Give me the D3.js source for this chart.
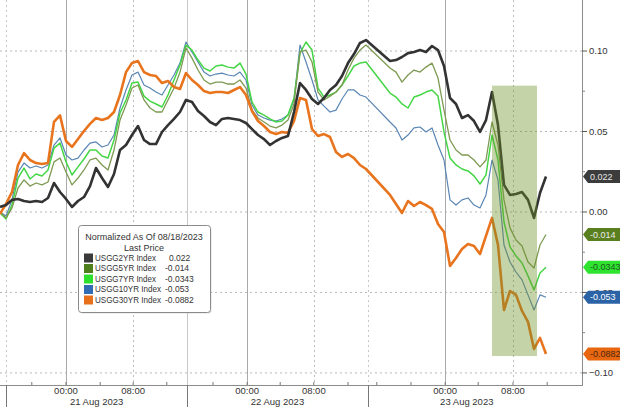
<!DOCTYPE html>
<html>
<head>
<meta charset="utf-8">
<script src="https://cdn.jsdelivr.net/npm/d3@7"></script>
<style>
  html, body { margin: 0; padding: 0; background: #fff; }
  svg { display: block; font-family: "Liberation Sans", Arial, sans-serif; }
</style>
</head>
<body>
<svg id="chart" width="620" height="407"></svg>
<script>
// ---------------- DATA ----------------
// Observations are sampled at regular "slots" along the (session-compressed) time axis.
const seriesNames = ["USGG2YR Index", "USGG5YR Index", "USGG7YR Index", "USGG10YR Index", "USGG30YR Index"];
const lastPrice = [0.022, -0.014, -0.0343, -0.053, -0.0882];

const usgg2yr = [
  0.0031, 0.0043, 0.0075, 0.0081, 0.0068, 0.0062, 0.0068, 0.0062, 0.0087, 0.0180,
  0.0124, 0.0081, 0.0031, 0.0068, 0.0093, 0.0161, 0.0273, 0.0211, 0.0155, 0.0236,
  0.0385, 0.0416, 0.0478, 0.0534, 0.0447, 0.0422, 0.0422, 0.0497, 0.0540, 0.0578,
  0.0621, 0.0696, 0.0683, 0.0627, 0.0596, 0.0559, 0.0540, 0.0578, 0.0584, 0.0578,
  0.0571, 0.0553, 0.0515, 0.0478, 0.0453, 0.0416, 0.0441, 0.0460, 0.0472, 0.0621,
  0.0801, 0.0758, 0.0702, 0.0671, 0.0708, 0.0758, 0.0789, 0.0845, 0.0925, 0.0981,
  0.1050, 0.1068,
  null, null, null,
  0.0938, 0.0944, 0.0963, 0.0987, 0.0994, 0.1006, 0.0994, 0.1031, 0.1006, 0.0907,
  0.0708, 0.0671, 0.0584, 0.0602, 0.0565, 0.0497, 0.0571, 0.0745, 0.0540, 0.0168,
  0.0106, 0.0112, 0.0124, 0.0075, -0.0037, 0.0118, 0.0220
];
const usgg5yr = [
  0.0000, -0.0037, 0.0025, 0.0149, 0.0199, 0.0161, 0.0180, 0.0168, 0.0186, 0.0311,
  0.0335, 0.0248, 0.0168, 0.0211, 0.0261, 0.0323, 0.0335, 0.0292, 0.0261, 0.0385,
  0.0571, 0.0665, 0.0770, 0.0789, 0.0696, 0.0646, 0.0621, 0.0621, 0.0696, 0.0770,
  0.0869, 0.1019, 0.0956, 0.0882, 0.0820, 0.0795, 0.0807, 0.0807, 0.0795, 0.0795,
  0.0820, 0.0770, 0.0633, 0.0584, 0.0559, 0.0534, 0.0522, 0.0540, 0.0571, 0.0671,
  0.0994, 0.1006, 0.0932, 0.0745, 0.0696, 0.0720, 0.0745, 0.0789, 0.0882, 0.0956,
  0.1006, 0.1037,
  null, null, null,
  0.0894, 0.0869, 0.0807, 0.0851, 0.0882, 0.0869, 0.0900, 0.0925, 0.0832, 0.0633,
  0.0447, 0.0385, 0.0354, 0.0354, 0.0323, 0.0280, 0.0323, 0.0559, 0.0416, 0.0075,
  -0.0099, -0.0174, -0.0211, -0.0311, -0.0348, -0.0205, -0.0140
];
const usgg7yr = [
  -0.0006, -0.0043, 0.0043, 0.0211, 0.0273, 0.0205, 0.0236, 0.0224, 0.0261, 0.0397,
  0.0428, 0.0311, 0.0230, 0.0280, 0.0329, 0.0385, 0.0385, 0.0348, 0.0335, 0.0447,
  0.0615, 0.0696, 0.0801, 0.0807, 0.0720, 0.0689, 0.0671, 0.0652, 0.0727, 0.0820,
  0.0913, 0.1037, 0.1006, 0.0944, 0.0894, 0.0876, 0.0907, 0.0913, 0.0900, 0.0894,
  0.0925, 0.0857, 0.0683, 0.0621, 0.0602, 0.0578, 0.0559, 0.0565, 0.0602, 0.0708,
  0.0987, 0.1056, 0.1006, 0.0770, 0.0714, 0.0727, 0.0745, 0.0789, 0.0845, 0.0907,
  0.0925, 0.0932,
  null, null, null,
  0.0739, 0.0714, 0.0671, 0.0646, 0.0714, 0.0727, 0.0745, 0.0758, 0.0720, 0.0497,
  0.0335, 0.0292, 0.0267, 0.0255, 0.0224, 0.0174, 0.0230, 0.0478, 0.0323, -0.0062,
  -0.0217, -0.0273, -0.0317, -0.0397, -0.0484, -0.0379, -0.0343
];
const usgg10yr = [
  0.0000, -0.0025, 0.0075, 0.0248, 0.0304, 0.0273, 0.0286, 0.0273, 0.0292, 0.0416,
  0.0460, 0.0354, 0.0323, 0.0335, 0.0385, 0.0428, 0.0435, 0.0404, 0.0416, 0.0478,
  0.0646, 0.0758, 0.0851, 0.0869, 0.0789, 0.0770, 0.0745, 0.0727, 0.0789, 0.0851,
  0.0925, 0.1056, 0.0994, 0.0932, 0.0869, 0.0845, 0.0857, 0.0863, 0.0851, 0.0845,
  0.0869, 0.0820, 0.0665, 0.0602, 0.0584, 0.0571, 0.0565, 0.0578, 0.0602, 0.0696,
  0.1037, 0.0932, 0.0820, 0.0696, 0.0658, 0.0621, 0.0633, 0.0702, 0.0758, 0.0758,
  0.0727, 0.0714,
  null, null, null,
  0.0559, 0.0522, 0.0447, 0.0478, 0.0522, 0.0528, 0.0497, 0.0522, 0.0416, 0.0323,
  0.0075, 0.0043, 0.0075, 0.0087, 0.0043, 0.0025, 0.0106, 0.0323, 0.0199, -0.0205,
  -0.0311, -0.0373, -0.0422, -0.0515, -0.0609, -0.0515, -0.0530
];
const usgg30yr = [
  -0.0012, 0.0050, 0.0124, 0.0292, 0.0366, 0.0323, 0.0304, 0.0298, 0.0304, 0.0560,
  0.0600, 0.0441, 0.0404, 0.0453, 0.0503, 0.0547, 0.0584, 0.0571, 0.0584, 0.0621,
  0.0727, 0.0869, 0.0925, 0.0938, 0.0869, 0.0851, 0.0845, 0.0801, 0.0814, 0.0776,
  0.0764, 0.0863, 0.0820, 0.0789, 0.0751, 0.0739, 0.0745, 0.0745, 0.0739, 0.0758,
  0.0776, 0.0727, 0.0627, 0.0565, 0.0534, 0.0497, 0.0484, 0.0497, 0.0491, 0.0565,
  0.0708, 0.0696, 0.0515, 0.0472, 0.0484, 0.0466, 0.0373, 0.0342, 0.0360, 0.0335,
  0.0292, 0.0267,
  null, null, null,
  0.0106, 0.0050, -0.0006, 0.0068, 0.0037, 0.0062, 0.0043, 0.0019, -0.0075, -0.0124,
  -0.0335, -0.0286, -0.0230, -0.0199, -0.0211, -0.0261, -0.0149, -0.0037, -0.0205, -0.0609,
  -0.0491, -0.0515, -0.0615, -0.0683, -0.0851, -0.0782, -0.0882
];

// time axis (in slot units)
const hourTickSlots = [11, 22.2, 41.2, 52.3, 74.2, 85.5];
const hourTickLabels = ["00:00", "08:00", "00:00", "08:00", "00:00", "08:00"];
const minorTickSlots = [5.3, 16.7, 27.8, 35.5, 46.7, 58, 62.8, 68.5, 79.7, 91.2];
const dayBoundSlots = [1, 31.2, 61.3, 94.3];
const dayLabels = ["21 Aug 2023", "22 Aug 2023", "23 Aug 2023"];
const yTickValues = [0.10, 0.05, 0.00, -0.05, -0.10];
const yMinorValues = [0.075, 0.025, -0.025, -0.075];
const highlightSlots = [82, 89.5];
const highlightValues = [-0.0895, 0.0785];

// ---------------- STYLE ----------------
const W = 620, H = 407;
const plot = { left: 0, right: 582, top: 0, bottom: 385 };
const seriesData = [usgg2yr, usgg5yr, usgg7yr, usgg10yr, usgg30yr];
const lineColors = ["#333333", "#7e9a52", "#45d645", "#5a86b4", "#e8741e"];
const lineWidths = [2.6, 1.3, 1.5, 1.2, 2.6];
const swatchColors = ["#3a3a3a", "#4f7f1c", "#2ee02e", "#2f6cb3", "#e8701a"];
const tagFill = ["#3c3c3c", "#5a7f1f", "#2fe42f", "#2b63a6", "#e8660f"];
const tagText = ["#e6e6e6", "#ececec", "#1d5a1d", "#ffffff", "#4a2810"];
const drawOrder = [3, 2, 1, 4, 0];

const svg = d3.select("#chart");

const x = d3.scaleLinear().domain([0, 97]).range([plot.left, plot.right]);
const y = d3.scaleLinear().domain([-0.1075, 0.1317]).range([plot.bottom, plot.top]);

// gridlines horizontal
svg.append("g").selectAll("line").data(yTickValues).join("line")
  .attr("x1", plot.left).attr("x2", plot.right)
  .attr("y1", d => y(d)).attr("y2", d => y(d))
  .attr("stroke", "#b8b8b8").attr("stroke-width", 1).attr("stroke-dasharray", "2,3");

// vertical gridlines
svg.append("g").selectAll("line").data(hourTickSlots).join("line")
  .attr("x1", d => Math.round(x(d)) + 0.5).attr("x2", d => Math.round(x(d)) + 0.5)
  .attr("y1", plot.top).attr("y2", plot.bottom)
  .attr("stroke", (d, i) => hourTickLabels[i] === "00:00" ? "#a9a9a9" : "#bdbdbd")
  .attr("stroke-dasharray", (d, i) => hourTickLabels[i] === "00:00" ? null : "2,3");

svg.append("g").selectAll("line").data(dayBoundSlots.slice(0, 3)).join("line")
  .attr("x1", d => Math.round(x(d)) + 0.5).attr("x2", d => Math.round(x(d)) + 0.5)
  .attr("y1", plot.top).attr("y2", plot.bottom)
  .attr("stroke", "#c8c8c8")
  .attr("stroke-dasharray", (d, i) => i === 1 ? null : "2,3");

// lines
const line = d3.line().x(d => x(d[0])).y(d => y(d[1]));
drawOrder.forEach(k => {
  const pts = seriesData[k].map((v, i) => [i, v]).filter(d => d[1] !== null);
  svg.append("path").datum(pts)
    .attr("d", line)
    .attr("fill", "none")
    .attr("stroke", lineColors[k])
    .attr("stroke-width", lineWidths[k])
    .attr("stroke-linejoin", "round");
});

// highlight box (semi transparent overlay)
svg.append("rect")
  .attr("x", x(highlightSlots[0])).attr("width", x(highlightSlots[1]) - x(highlightSlots[0]))
  .attr("y", y(highlightValues[1])).attr("height", y(highlightValues[0]) - y(highlightValues[1]))
  .attr("fill", "#6f9127").attr("fill-opacity", 0.4);

// axes lines
svg.append("line").attr("x1", plot.right + 0.5).attr("x2", plot.right + 0.5)
  .attr("y1", 0).attr("y2", plot.bottom).attr("stroke", "#8c8c8c");
svg.append("line").attr("x1", 0).attr("x2", plot.right + 1)
  .attr("y1", plot.bottom + 0.5).attr("y2", plot.bottom + 0.5).attr("stroke", "#8c8c8c");

// right axis ticks
const yAxis = svg.append("g");
yAxis.selectAll("line.maj").data(yTickValues).join("line").attr("class", "maj")
  .attr("x1", plot.right).attr("x2", plot.right + 5)
  .attr("y1", d => y(d)).attr("y2", d => y(d)).attr("stroke", "#555");
yAxis.selectAll("line.min").data(yMinorValues).join("line").attr("class", "min")
  .attr("x1", plot.right).attr("x2", plot.right + 3)
  .attr("y1", d => y(d)).attr("y2", d => y(d)).attr("stroke", "#888");
yAxis.selectAll("text").data(yTickValues).join("text")
  .attr("x", plot.right + 7).attr("y", d => y(d)).attr("dy", "0.35em")
  .attr("font-size", 9.5).attr("fill", "#333")
  .text(d => d3.format(".2f")(d));

// bottom axis ticks
const xAxis = svg.append("g");
xAxis.selectAll("line.t").data(hourTickSlots.concat(minorTickSlots)).join("line").attr("class", "t")
  .attr("x1", d => x(d)).attr("x2", d => x(d))
  .attr("y1", plot.bottom).attr("y2", plot.bottom - 3).attr("stroke", "#777");
xAxis.selectAll("line.day").data(dayBoundSlots.slice(0, 3)).join("line").attr("class", "day")
  .attr("x1", d => Math.round(x(d)) + 0.5).attr("x2", d => Math.round(x(d)) + 0.5)
  .attr("y1", plot.bottom).attr("y2", H).attr("stroke", "#777");
xAxis.selectAll("text.h").data(hourTickSlots).join("text").attr("class", "h")
  .attr("x", d => x(d)).attr("y", 391).attr("dy", "0.35em")
  .attr("text-anchor", "middle").attr("font-size", 9.5).attr("fill", "#333")
  .text((d, i) => hourTickLabels[i]);
xAxis.selectAll("text.d").data(dayLabels).join("text").attr("class", "d")
  .attr("x", (d, i) => x((dayBoundSlots[i] + dayBoundSlots[i + 1]) / 2)).attr("y", 402).attr("dy", "0.35em")
  .attr("text-anchor", "middle").attr("font-size", 9.5).attr("fill", "#333")
  .text(d => d);

// right value tags
const tags = svg.append("g");
lastPrice.forEach((v, k) => {
  const ty = y(v);
  tags.append("path")
    .attr("d", `M${plot.right + 1},${ty} L${plot.right + 6},${ty - 6.5} L${W},${ty - 6.5} L${W},${ty + 6.5} L${plot.right + 6},${ty + 6.5} Z`)
    .attr("fill", tagFill[k]);
  tags.append("text")
    .attr("x", plot.right + 8).attr("y", ty).attr("dy", "0.35em")
    .attr("font-size", 9).attr("fill", tagText[k])
    .text(String(v));
});

// legend
const lg = svg.append("g").attr("transform", "translate(78,225)");
lg.append("rect").attr("x", 1.5).attr("y", 1.5).attr("width", 132).attr("height", 87).attr("rx", 3)
  .attr("fill", "#000").attr("fill-opacity", 0.12);
lg.append("rect").attr("x", 0.5).attr("y", 0.5).attr("width", 132).attr("height", 87).attr("rx", 3)
  .attr("fill", "#fff").attr("stroke", "#8a8a8a");
lg.append("text").attr("x", 66).attr("y", 12).attr("dy", "0.35em").attr("text-anchor", "middle")
  .attr("font-size", 9).attr("fill", "#333").text("Normalized As Of 08/18/2023");
lg.append("text").attr("x", 66).attr("y", 22.5).attr("dy", "0.35em").attr("text-anchor", "middle")
  .attr("font-size", 9).attr("fill", "#333").text("Last Price");
seriesNames.forEach((n, k) => {
  const ry = 33 + k * 10.5;
  lg.append("rect").attr("x", 6).attr("y", ry - 4.5).attr("width", 9).attr("height", 9).attr("fill", swatchColors[k]);
  lg.append("text").attr("x", 17).attr("y", ry).attr("dy", "0.35em")
    .attr("font-size", 8.5).attr("fill", "#333").attr("textLength", 64).attr("lengthAdjust", "spacingAndGlyphs")
    .text(n.length > 13 ? n : n)
    .attr("textLength", n.length === 14 ? 66 : 61);
  lg.append("text").attr("x", lastPrice[k] >= 0 ? 91 : 87).attr("y", ry).attr("dy", "0.35em")
    .attr("font-size", 8.5).attr("fill", "#333").text(String(lastPrice[k]));
});
</script>
</body>
</html>
